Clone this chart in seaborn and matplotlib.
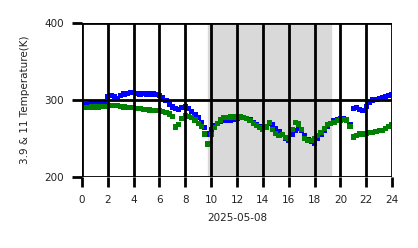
import numpy as np
import pandas as pd
import matplotlib
matplotlib.use("Agg")
import matplotlib.pyplot as plt
import seaborn as sns

hours = [i * 0.25 for i in range(97)]

temp_39 = [293, 294, 294, 295, 295, 296, 296, 297, 305, 306, 305, 302, 306, 308, 309, 310,
           310, 309, 308, 309, 308, 308, 308, 307, 306, 303, 299, 295, 291, 289, 288, 290,
           292, 289, 285, 281, 277, 271, 264, 256, 262, 267, 270, 272, 273, 274, 274, 275,
           276, 277, 277, 276, 274, 271, 268, 266, 264, 266, 270, 268, 263, 259, 255, 250,
           248, 255, 261, 263, 260, 254, 249, 246, 244, 250, 256, 261, 266, 270, 273, 275,
           276, 276, 275, 268, 289, 290, 288, 286, 292, 297, 300, 301, 302, 303, 305, 306,
           307]

temp_11 = [290, 290, 290, 291, 291, 291, 292, 292, 292, 293, 293, 293, 292, 291, 290, 290,
           290, 289, 289, 288, 288, 287, 286, 286, 286, 285, 284, 282, 279, 265, 268, 276,
           280, 279, 277, 274, 270, 266, 256, 243, 255, 264, 270, 274, 277, 277, 278, 278,
           278, 278, 277, 276, 273, 270, 267, 264, 262, 265, 271, 262, 257, 254, 255, 251,
           250, 262, 271, 269, 262, 250, 247, 248, 250, 254, 258, 263, 268, 270, 271, 273,
           274, 275, 274, 266, 252, 254, 256, 256, 257, 258, 258, 259, 260, 261, 263, 266,
           268]

night_start, night_end = 9.77, 19.25
x_ticks = list(range(0, 25, 2))
y_ticks = [200, 300, 400]

df = pd.DataFrame({
    "hour": hours * 2,
    "temp": temp_39 + temp_11,
    "band": ["3.9"] * len(hours) + ["11"] * len(hours),
})

sns.set_theme(style="white")
plt.rcParams["font.family"] = ["DejaVu Sans"]

fig = plt.figure(figsize=(4.18, 2.48), dpi=100)
ax = fig.add_axes([0.196, 0.286, 0.742, 0.621])

ax.axvspan(night_start, night_end, color="#d9d9d9", zorder=0)
sns.scatterplot(data=df, x="hour", y="temp", hue="band",
                palette={"3.9": "#0000ff", "11": "#008000"},
                marker="s", s=14, linewidth=0, legend=False, ax=ax, zorder=2)

ax.set_xlim(0, 24)
ax.set_ylim(200, 400)
ax.set_xticks(x_ticks)
ax.set_yticks(y_ticks)
ax.grid(True, color="black", linewidth=2, zorder=3)
ax.set_axisbelow(False)
for s in ax.spines.values():
    s.set_visible(False)
ax.tick_params(axis="both", direction="out", length=7, width=2, color="black",
               labelsize=7.5, pad=6, labelcolor="#222222")
ax.tick_params(axis="both", which="both", bottom=True, left=True)
ax.set_xlabel("2025-05-08", fontsize=7.5, color="#222222", labelpad=6)
ax.set_ylabel("3.9 & 11 Temperature(K)", fontsize=7.5, color="#222222", labelpad=10)

fig.savefig("out.png", dpi=100)
